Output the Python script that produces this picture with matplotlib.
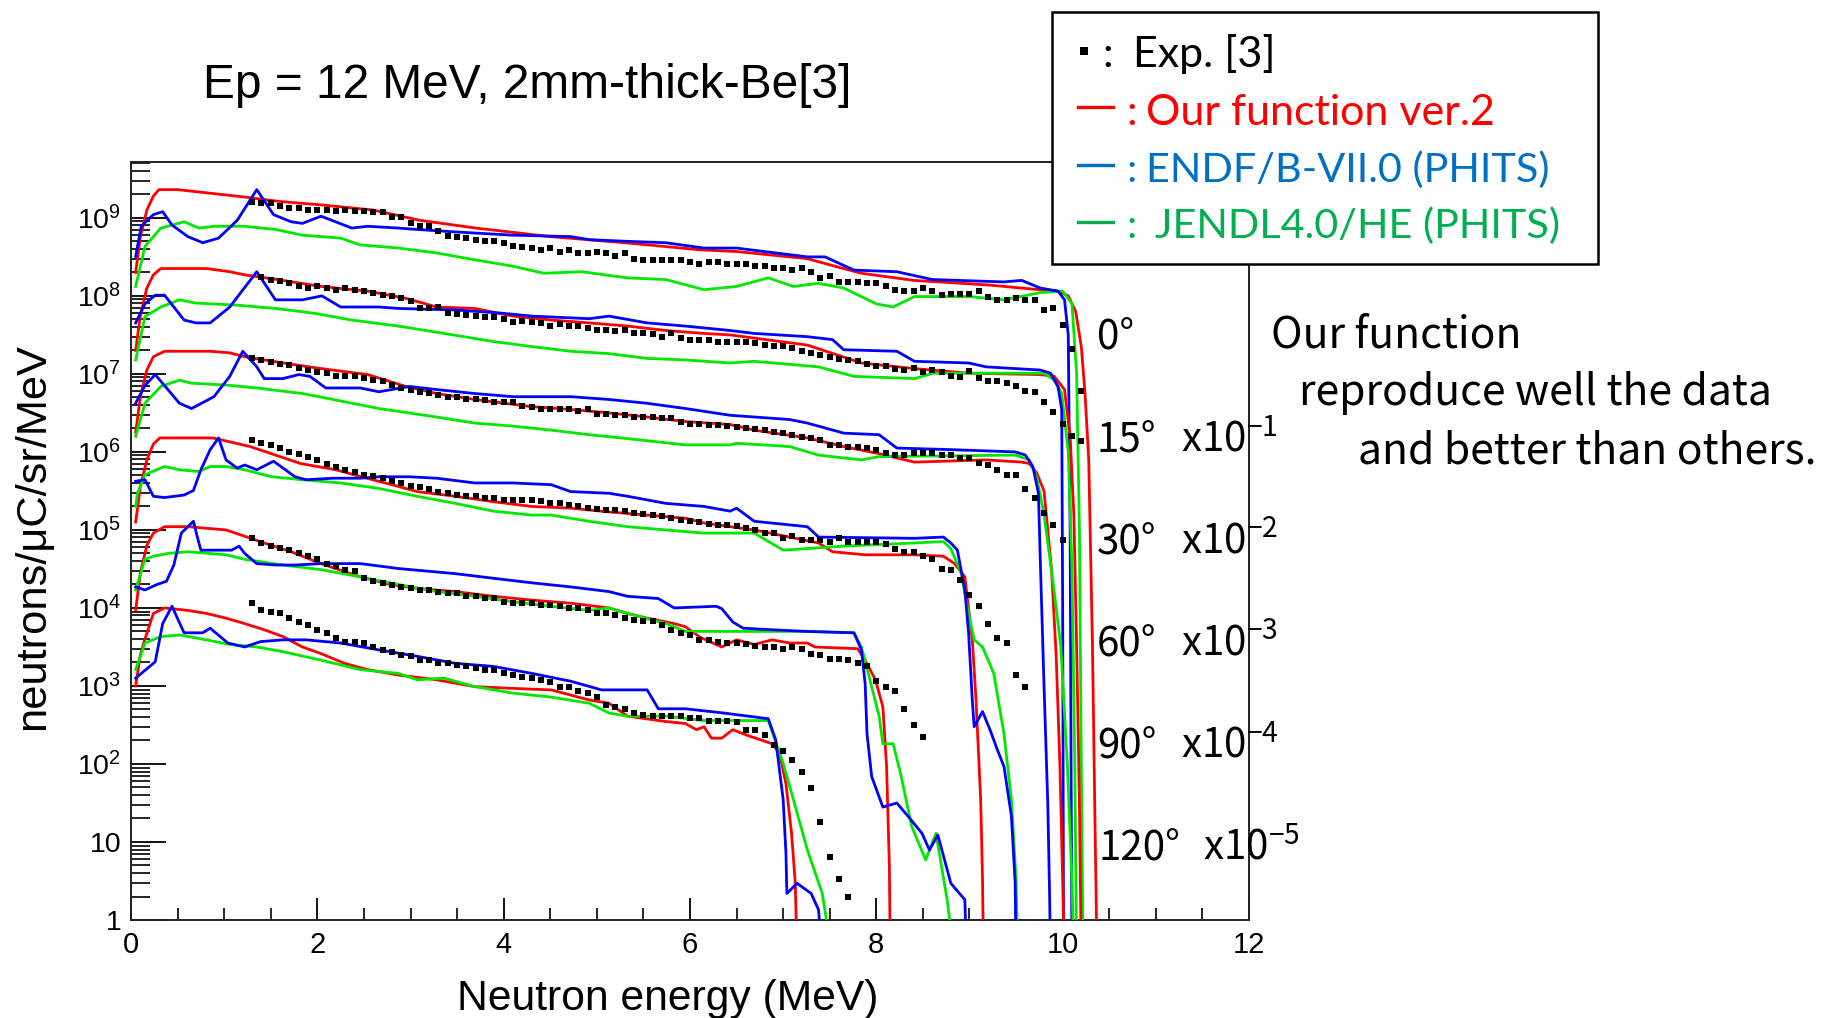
import numpy as np
import matplotlib
matplotlib.use("Agg")
import matplotlib.pyplot as plt
from matplotlib.lines import Line2D
from matplotlib.patches import Rectangle
from matplotlib.ticker import FixedLocator, FixedFormatter, LogLocator, MultipleLocator, NullFormatter

# ---------------------------------------------------------------- data
ANGLES = ["0°", "15°", "30°", "60°", "90°", "120°"]
SCALE_EXP = [0, -1, -2, -3, -4, -5]          # displayed = value * 10**SCALE_EXP

EXP_ENERGY = [1.3, 1.4, 1.5, 1.6, 1.7, 1.8, 1.9, 2.0, 2.1, 2.2, 2.3, 2.4, 2.5, 2.6, 2.7, 2.8, 2.9,
              3.0, 3.1, 3.2, 3.3, 3.4, 3.5, 3.6, 3.7, 3.8, 3.9, 4.0, 4.1, 4.2, 4.3, 4.4, 4.5, 4.6,
              4.7, 4.8, 4.9, 5.0, 5.1, 5.2, 5.3, 5.4, 5.5, 5.6, 5.7, 5.8, 5.9, 6.0, 6.1, 6.2, 6.3,
              6.4, 6.5, 6.6, 6.7, 6.8, 6.9, 7.0, 7.1, 7.2, 7.3, 7.4, 7.5, 7.6, 7.7, 7.8, 7.9, 8.0,
              8.1, 8.2, 8.3, 8.4, 8.5, 8.6, 8.7, 8.8, 8.9, 9.0, 9.1, 9.2, 9.3, 9.4, 9.5, 9.6, 9.7,
              9.8, 9.9, 10.0, 10.1, 10.2]
EXP_FIRST_E = [1.3, 1.4, 1.3, 1.3, 1.3, 1.3]

EXP_0 = [1.62e9, 1.55e9, 1.55e9, 1.43e9, 1.33e9, 1.33e9, 1.27e9, 1.27e9, 1.27e9, 1.21e9,
         1.27e9, 1.21e9, 1.21e9, 1.18e9, 1.18e9, 1.02e9, 1.02e9, 8.6e8, 7.9e8, 7.8e8,
         6.7e8, 5.8e8, 5.7e8, 5.5e8, 5.2e8, 5.0e8, 5.0e8, 4.7e8, 4.4e8, 4.2e8,
         4.1e8, 3.9e8, 4.1e8, 3.7e8, 3.9e8, 3.5e8, 3.5e8, 3.7e8, 3.5e8, 3.2e8,
         3.5e8, 3.0e8, 2.9e8, 2.9e8, 2.9e8, 2.9e8, 2.9e8, 2.75e8, 2.6e8, 2.75e8,
         2.75e8, 2.6e8,
         2.6e8, 2.6e8, 2.4e8, 2.4e8, 2.26e8, 2.26e8, 2.14e8, 2.26e8, 2.04e8, 1.7e8,
         1.82e8, 1.51e8, 1.51e8, 1.51e8, 1.45e8, 1.45e8, 1.32e8, 1.2e8, 1.15e8, 1.15e8,
         1.26e8, 1.15e8, 1.02e8, 1.07e8, 1.07e8, 1.07e8, 1.15e8, 9.8e7, 8.9e7, 8.9e7,
         9.3e7, 8.9e7, 8.9e7, 6.6e7, 6.9e7, 4.2e7, 2.1e7, 6.0e6]
EXP_1 = [1.77e9, 1.6e9, 1.53e9, 1.46e9, 1.32e9, 1.26e9, 1.32e9, 1.26e9, 1.2e9, 1.26e9,
         1.2e9, 1.15e9, 1.1e9, 1.03e9, 1.0e9, 9.3e8, 8.5e8, 6.95e8, 6.95e8, 7.3e8,
         6.1e8, 5.9e8, 5.7e8, 5.55e8, 5.4e8, 5.3e8, 5.0e8, 4.6e8, 4.7e8, 4.6e8,
         4.5e8, 4.05e8, 4.3e8, 4.05e8, 4.15e8, 3.85e8, 3.7e8, 3.7e8, 3.5e8, 3.7e8,
         3.3e8, 3.3e8, 3.2e8, 3.0e8, 3.3e8, 2.85e8, 2.7e8, 2.7e8, 2.7e8, 2.6e8,
         2.6e8,
         2.6e8, 2.6e8, 2.48e8, 2.36e8, 2.31e8, 2.31e8, 2.14e8, 1.94e8, 1.88e8, 1.75e8,
         1.67e8, 1.56e8, 1.51e8, 1.47e8, 1.35e8, 1.28e8, 1.28e8, 1.16e8, 1.13e8, 1.18e8,
         1.07e8, 1.13e8, 1.05e8, 9.3e7, 9.1e7, 1.1e8, 8.8e7, 8.0e7, 8.0e7, 7.7e7,
         6.9e7, 6.1e7, 5.8e7, 4.3e7, 3.2e7, 2.3e7, 1.6e7, 1.36e7]
EXP_2 = [1.59e9, 1.51e9, 1.44e9, 1.35e9, 1.31e9, 1.18e9, 1.13e9, 1.07e9, 1.02e9, 9.4e8,
         9.4e8, 9.3e8, 8.8e8, 8.4e8, 8.0e8, 7.2e8, 6.6e8, 6.2e8, 5.9e8, 5.7e8,
         5.4e8, 5.1e8, 5.1e8, 4.7e8, 4.7e8, 4.65e8, 4.4e8, 4.4e8, 4.3e8, 3.9e8,
         3.8e8, 3.6e8, 3.6e8, 3.6e8, 3.6e8, 3.3e8, 3.5e8, 3.1e8, 3.08e8, 3.0e8,
         3.0e8, 2.8e8, 2.8e8, 2.8e8, 2.7e8, 2.7e8, 2.45e8, 2.3e8, 2.3e8, 2.2e8,
         2.2e8, 2.16e8,
         2.11e8, 2.01e8, 1.97e8, 1.91e8, 1.82e8, 1.74e8, 1.65e8, 1.57e8, 1.5e8, 1.43e8,
         1.23e8, 1.23e8, 1.17e8, 1.17e8, 1.11e8, 1.06e8, 9.6e7, 9.2e7, 9.2e7, 9.6e7,
         9.6e7, 9.6e7, 9.2e7, 9.2e7, 8.3e7, 8.3e7, 7.2e7, 6.8e7, 5.9e7, 5.1e7,
         5.1e7, 3.3e7, 2.55e7, 1.64e7, 1.16e7, 7.4e6]
EXP_3 = [1.41e9, 1.29e9, 1.23e9, 1.12e9, 1.0e9, 9.5e8, 8.7e8, 7.9e8, 7.1e8, 6.5e8,
         5.9e8, 5.5e8, 5.1e8, 4.9e8, 4.6e8, 4.2e8, 4.0e8, 3.7e8, 3.55e8, 3.3e8,
         3.1e8, 2.95e8, 2.8e8, 2.75e8, 2.7e8, 2.6e8, 2.57e8, 2.45e8, 2.4e8, 2.4e8,
         2.4e8, 2.35e8, 2.24e8, 2.19e8, 2.09e8, 2.0e8, 1.9e8, 1.86e8, 1.82e8, 1.78e8,
         1.74e8, 1.66e8, 1.62e8, 1.55e8, 1.51e8, 1.41e8, 1.35e8, 1.32e8, 1.26e8, 1.2e8,
         1.15e8, 1.15e8, 1.12e8, 1.07e8, 1.0e8, 9.1e7, 9.1e7, 7.9e7, 8.3e7, 7.4e7,
         7.4e7, 7.4e7, 7.1e7, 7.9e7, 7.1e7, 7.1e7, 7.1e7, 7.1e7, 6.6e7, 5.75e7,
         5.25e7, 5.25e7, 4.6e7, 4.2e7, 3.2e7, 3.1e7, 2.3e7, 1.48e7, 1.05e7, 6.3e6,
         4.1e6, 3.55e6, 1.38e6, 9.8e5]
EXP_4 = [7.8e8, 6.8e8, 6.2e8, 5.9e8, 5.5e8, 5.0e8, 4.6e8, 4.2e8, 3.7e8, 3.4e8,
         3.1e8, 2.95e8, 2.4e8, 2.2e8, 2.1e8, 1.97e8, 1.86e8, 1.78e8, 1.7e8, 1.7e8,
         1.62e8, 1.55e8, 1.55e8, 1.41e8, 1.41e8, 1.33e8, 1.33e8, 1.2e8, 1.15e8, 1.15e8,
         1.15e8, 1.1e8, 1.1e8, 1.05e8, 1.0e8, 1.0e8, 9.4e7, 8.5e7, 8.5e7, 8.1e7,
         7.4e7, 7.1e7, 6.8e7, 6.8e7, 6.0e7, 5.25e7, 4.8e7, 4.5e7, 3.9e7, 3.9e7,
         3.7e7, 3.55e7, 3.55e7, 3.4e7, 3.3e7, 3.16e7, 3.16e7, 3.0e7, 3.16e7, 3.0e7,
         2.6e7, 2.5e7, 2.24e7, 2.24e7, 2.14e7, 1.95e7, 1.78e7, 1.15e7, 9.8e6, 8.5e6,
         5.1e6, 3.16e6, 2.24e6]
EXP_5 = [1.15e9, 9.4e8, 8.9e8, 8.5e8, 7.4e8, 6.7e8, 6.0e8, 5.25e8, 4.8e8, 4.1e8,
         3.7e8, 3.7e8, 3.55e8, 3.2e8, 2.9e8, 2.75e8, 2.5e8, 2.4e8, 2.14e8, 2.14e8,
         1.95e8, 1.95e8, 1.86e8, 1.78e8, 1.7e8, 1.6e8, 1.6e8, 1.45e8, 1.38e8, 1.32e8,
         1.26e8, 1.2e8, 1.14e8, 9.8e7, 9.8e7, 8.5e7, 8.1e7, 7.2e7, 5.75e7, 5.4e7,
         5.1e7, 4.5e7, 4.3e7, 4.1e7, 4.1e7, 4.1e7, 4.1e7, 3.85e7, 3.85e7, 3.6e7,
         3.6e7, 3.6e7, 3.5e7, 2.75e7, 2.75e7, 2.35e7, 1.74e7, 1.45e7, 1.12e7, 7.9e6,
         4.9e6, 1.82e6, 6.5e5, 3.4e5, 2.0e5]

# Our function ver.2 (red)
RED_E0 = [0.05, 0.1, 0.17, 0.24, 0.3, 0.5, 0.8, 1.2, 1.6, 2.0, 2.6, 3.1, 3.7, 4.5, 5.3, 6.1, 6.5,
          7.26, 7.5, 7.84, 8.4, 9.2, 9.75, 9.95, 10.06, 10.14, 10.2, 10.24, 10.28, 10.32, 10.35, 10.37]
RED_Y0 = [2.0e8, 5.6e8, 1.26e9, 1.9e9, 2.3e9, 2.3e9, 2.1e9, 1.86e9, 1.62e9, 1.48e9, 1.26e9, 9.3e8,
          7.4e8, 5.75e8, 4.8e8, 3.9e8, 3.7e8, 3.0e8, 2.5e8, 1.95e8, 1.58e8, 1.38e8, 1.2e8, 1.15e8,
          1.0e8, 6.3e7, 2.24e7, 5.6e6, 7.9e5, 3.2e3, 10, 0.3]
RED_E1 = [0.05, 0.1, 0.17, 0.24, 0.32, 0.81, 1.06, 1.22, 1.63, 2.04, 2.54, 2.95, 3.28, 3.69, 4.1,
          4.51, 4.92, 5.33, 5.74, 6.15, 6.43, 7.26, 7.84, 8.41, 8.99, 9.76, 9.91, 10.02, 10.08,
          10.12, 10.15, 10.18, 10.2]
RED_Y1 = [2.0e8, 5.6e8, 1.26e9, 1.86e9, 2.24e9, 2.24e9, 2.04e9, 1.86e9, 1.58e9, 1.32e9, 1.15e9,
          9.3e8, 7.2e8, 6.9e8, 5.5e8, 4.9e8, 4.5e8, 4.1e8, 3.6e8, 3.3e8, 3.16e8, 2.34e8, 1.38e8,
          1.17e8, 1.02e8, 9.8e7, 9.3e7, 6.3e7, 1.58e7, 1.58e6, 3.2e4, 316, 3.2]
RED_E2 = [0.05, 0.1, 0.17, 0.24, 0.36, 0.85, 1.06, 1.22, 1.63, 2.04, 2.54, 2.95, 3.28, 3.69, 4.3,
          4.72, 5.13, 5.54, 5.95, 6.43, 6.69, 7.26, 7.65, 8.03, 8.41, 9.18, 9.56, 9.64, 9.72, 9.8,
          9.88, 9.93, 9.97, 10.0, 10.02]
RED_Y2 = [1.78e8, 5.0e8, 1.12e9, 1.66e9, 1.95e9, 1.95e9, 1.86e9, 1.66e9, 1.38e9, 1.17e9, 9.8e8,
          6.9e8, 5.6e8, 4.7e8, 3.8e8, 3.5e8, 3.16e8, 2.8e8, 2.45e8, 2.24e8, 1.9e8, 1.51e8, 1.17e8,
          9.5e7, 7.4e7, 7.9e7, 7.4e7, 7.1e7, 5.4e7, 3.16e7, 3.16e6, 2.5e5, 1e4, 316, 32]
RED_E3 = [0.05, 0.1, 0.17, 0.24, 0.31, 0.88, 1.28, 1.82, 2.2, 2.5, 2.8, 3.07, 3.48, 3.89, 4.3,
          4.72, 5.13, 5.54, 5.95, 6.15, 6.43, 6.69, 7.38, 7.53, 7.88, 8.41, 8.72, 8.84, 8.95, 9.03,
          9.07, 9.12, 9.14, 9.15]
RED_Y3 = [1.26e8, 3.55e8, 7.9e8, 1.26e9, 1.51e9, 1.51e9, 1.17e9, 7.1e8, 5.9e8, 4.7e8, 3.8e8,
          3.1e8, 2.7e8, 2.3e8, 2.0e8, 1.9e8, 1.7e8, 1.55e8, 1.41e8, 1.23e8, 1.1e8, 1.0e8, 6.8e7,
          5.25e7, 4.8e7, 4.8e7, 4.6e7, 3.7e7, 2.5e7, 3.9e6, 6.6e5, 3.5e4, 3.2e3, 316]
RED_E4 = [0.05, 0.1, 0.17, 0.24, 0.36, 0.61, 0.81, 1.02, 1.22, 1.43, 1.72, 2.04, 2.46, 2.78, 3.07,
          3.48, 3.89, 4.3, 4.72, 5.13, 5.33, 5.54, 5.83, 5.95, 6.11, 6.34, 6.5, 6.69, 6.88, 7.07,
          7.26, 7.34, 7.8, 7.88, 7.99, 8.07, 8.11, 8.14, 8.15]
RED_Y4 = [9.3e7, 2.8e8, 6.3e8, 9.1e8, 1.1e9, 1.1e9, 1.05e9, 1.0e9, 8.3e8, 6.8e8, 5.25e8, 3.7e8,
          2.5e8, 2.0e8, 1.78e8, 1.62e8, 1.41e8, 1.26e8, 1.15e8, 1.0e8, 8.5e7, 7.4e7, 6.3e7, 5.75e7,
          4.2e7, 3.16e7, 3.9e7, 3.4e7, 3.9e7, 3.55e7, 3.55e7, 3.16e7, 3.0e7, 2.14e7, 1.2e7, 5.4e6,
          9.3e5, 4.8e4, 3.2e3]
RED_E5 = [0.05, 0.1, 0.15, 0.24, 0.36, 0.61, 0.81, 1.02, 1.22, 1.43, 1.63, 1.84, 2.04, 2.29, 2.54,
          2.87, 3.28, 3.69, 4.1, 4.51, 4.92, 5.13, 5.33, 5.74, 5.95, 6.07, 6.15, 6.23, 6.34, 6.46,
          6.61, 6.88, 6.96, 7.03, 7.09, 7.13, 7.15]
RED_Y5 = [1.0e8, 2.5e8, 4.0e8, 8.5e8, 1.0e9, 9.3e8, 8.5e8, 7.4e8, 6.3e8, 5.25e8, 4.3e8, 3.16e8,
          2.6e8, 1.95e8, 1.62e8, 1.38e8, 1.2e8, 9.8e7, 9.3e7, 8.9e7, 6.6e7, 6.0e7, 4.1e7, 3.5e7,
          3.3e7, 2.75e7, 3.0e7, 2.14e7, 2.14e7, 2.75e7, 2.34e7, 1.82e7, 1.38e7, 5.6e6, 1.29e6,
          2.95e5, 3.2e4]

# ENDF/B-VII.0 (PHITS) (blue)
BLUE_E0 = [0.05, 0.11, 0.24, 0.34, 0.44, 0.61, 0.77, 0.94, 1.14, 1.35, 1.53, 1.72, 1.84, 2.04,
           2.37, 2.54, 2.87, 3.07, 3.48, 4.1, 4.72, 4.92, 5.33, 5.74, 6.15, 6.5, 7.26, 7.45, 7.76,
           8.22, 8.6, 9.37, 9.56, 9.76, 9.95, 10.02, 10.06, 10.08, 10.09, 10.1]
BLUE_Y0 = [3.2e8, 7.8e8, 1.1e9, 1.2e9, 8.1e8, 5.75e8, 4.8e8, 5.5e8, 9.3e8, 2.3e9, 1.1e9, 8.9e8,
           8.5e8, 1.05e9, 7.4e8, 7.8e8, 7.4e8, 7.1e8, 6.6e8, 6.0e8, 5.75e8, 5.25e8, 5.0e8, 4.8e8,
           4.1e8, 4.1e8, 3.16e8, 3.16e8, 2.14e8, 2.04e8, 1.62e8, 1.51e8, 1.58e8, 1.26e8, 1.15e8,
           8.9e7, 3.16e7, 1e5, 100, 0.3]
BLUE_E1 = [0.05, 0.15, 0.26, 0.36, 0.57, 0.7, 0.85, 1.06, 1.35, 1.55, 1.84, 2.05, 2.25, 2.66,
           2.87, 3.48, 3.98, 4.3, 4.92, 5.13, 5.54, 5.95, 6.43, 6.69, 7.26, 7.53, 7.65, 8.22, 8.41,
           8.99, 9.18, 9.76, 9.87, 9.95, 9.99, 10.0, 10.01]
BLUE_Y1 = [4.5e8, 7.9e8, 1.02e9, 1.02e9, 4.9e8, 4.5e8, 4.5e8, 7.2e8, 2.04e9, 8.9e8, 8.9e8,
           1.0e9, 7.2e8, 7.2e8, 6.9e8, 6.6e8, 6.0e8, 5.5e8, 5.1e8, 5.5e8, 4.5e8, 4.1e8, 3.6e8,
           3.3e8, 3.0e8, 2.75e8, 2.04e8, 1.95e8, 1.45e8, 1.38e8, 1.23e8, 1.12e8, 1.02e8, 6.9e7,
           3.5e7, 1e5, 3.2]
BLUE_E2 = [0.05, 0.15, 0.26, 0.52, 0.65, 0.89, 1.06, 1.2, 1.35, 1.43, 1.63, 1.8, 1.92, 2.09,
           2.46, 2.66, 2.99, 3.28, 3.69, 4.1, 4.72, 5.13, 5.54, 5.95, 6.43, 7.07, 7.26, 7.65, 8.03,
           8.22, 8.8, 9.49, 9.6, 9.68, 9.74, 9.76, 9.8, 9.84, 9.86, 9.87]
BLUE_Y2 = [4.2e8, 7.1e8, 9.8e8, 4.2e8, 3.6e8, 5.1e8, 9.3e8, 1.95e9, 1.23e9, 8.7e8, 8.7e8, 9.8e8,
           9.3e8, 6.6e8, 6.6e8, 5.9e8, 6.9e8, 6.3e8, 5.6e8, 5.1e8, 5.1e8, 4.7e8, 4.2e8, 3.6e8,
           2.95e8, 2.6e8, 2.34e8, 1.74e8, 1.66e8, 1.12e8, 1.07e8, 1.0e8, 9.1e7, 6.5e7, 2.95e7,
           4.0e6, 1e5, 3.2e3, 200, 32]
BLUE_E3 = [0.05, 0.15, 0.24, 0.36, 0.57, 0.67, 0.75, 0.85, 0.94, 1.02, 1.14, 1.22, 1.35, 1.53,
           1.76, 1.88, 2.17, 2.46, 2.66, 2.99, 3.28, 3.69, 4.1, 4.51, 4.72, 5.13, 5.33, 5.74, 6.15,
           6.43, 6.5, 6.69, 7.26, 7.38, 8.41, 8.72, 8.8, 8.87, 8.95, 8.99, 9.03, 9.05, 9.14, 9.22,
           9.3, 9.37, 9.45, 9.49, 9.5]
BLUE_Y3 = [4.2e8, 4.4e8, 2.7e8, 2.6e8, 2.8e8, 3.2e8, 5.9e8, 1.07e9, 1.51e9, 7.9e8, 6.2e8, 6.8e8,
           5.9e8, 7.6e8, 4.8e8, 4.4e8, 4.6e8, 4.6e8, 4.8e8, 4.8e8, 4.6e8, 4.0e8, 4.0e8, 3.8e8,
           3.1e8, 2.95e8, 2.7e8, 2.19e8, 2.0e8, 1.74e8, 1.9e8, 1.29e8, 1.1e8, 8.1e7, 7.8e7, 8.1e7,
           6.8e7, 5.5e7, 1.7e7, 4.8e6, 6.6e5, 3.0e5, 4.7e5, 2.75e5, 1.51e5, 9.3e4, 2.14e4, 3.0e3,
           316]
BLUE_E4 = [0.05, 0.15, 0.28, 0.38, 0.46, 0.54, 0.67, 0.71, 0.75, 1.08, 1.16, 1.22, 1.35, 1.55,
           1.76, 2.04, 2.46, 2.58, 2.87, 3.2, 3.48, 3.89, 4.3, 4.72, 5.13, 5.33, 5.66, 5.83, 6.28,
           6.34, 6.46, 6.57, 6.88, 7.26, 7.76, 7.84, 7.88, 7.9, 7.95, 8.07, 8.22, 8.34, 8.49, 8.57,
           8.66, 8.8, 8.95, 8.97]
BLUE_Y4 = [1.86e8, 1.7e8, 2.0e8, 2.19e8, 3.55e8, 9.1e8, 1.29e9, 8.3e8, 5.5e8, 5.5e8, 6.2e8, 5.0e8,
           3.7e8, 3.55e8, 3.55e8, 3.7e8, 3.7e8, 3.55e8, 3.2e8, 2.95e8, 2.75e8, 2.4e8, 2.1e8,
           1.86e8, 1.62e8, 1.41e8, 1.32e8, 1.0e8, 1.05e8, 9.8e7, 6.6e7, 5.5e7, 5.25e7, 5.0e7,
           4.8e7, 2.9e7, 1.07e7, 2.45e6, 6.9e5, 2.8e5, 3.16e5, 2.14e5, 1.29e5, 7.9e4, 1.23e5,
           2.95e4, 1.82e4, 3.2e3]
BLUE_E5 = [0.05, 0.26, 0.34, 0.44, 0.57, 0.77, 0.85, 1.04, 1.22, 1.39, 1.63, 1.88, 2.25, 2.66,
           3.07, 3.48, 3.89, 4.3, 4.72, 5.05, 5.54, 5.66, 5.95, 6.36, 6.84, 6.92, 7.0, 7.03, 7.04,
           7.15, 7.3, 7.38, 7.42]
BLUE_Y5 = [1.26e8, 2.04e8, 6.3e8, 1.05e9, 4.8e8, 4.8e8, 5.5e8, 3.55e8, 3.16e8, 3.7e8, 3.9e8,
           3.9e8, 3.55e8, 2.9e8, 2.4e8, 1.95e8, 1.78e8, 1.45e8, 1.15e8, 8.9e7, 8.9e7, 5.1e7, 5.1e7,
           4.5e7, 3.8e7, 2.04e7, 3.5e6, 7.1e5, 2.19e5, 2.95e5, 2.19e5, 1.35e5, 3.2e4]

# JENDL4.0/HE (PHITS) (green)
GREEN_E0 = [0.05, 0.15, 0.32, 0.57, 0.73, 0.89, 1.22, 1.55, 1.84, 2.25, 2.46, 2.87, 3.28, 3.69,
            4.1, 4.43, 4.84, 5.33, 5.74, 6.15, 6.5, 6.84, 7.11, 7.38, 7.65, 8.0, 8.18, 8.41, 9.0,
            9.37, 9.76, 10.0, 10.1, 10.15, 10.18, 10.2, 10.22]
GREEN_Y0 = [1.32e8, 4.3e8, 7.4e8, 8.9e8, 7.4e8, 7.8e8, 7.8e8, 7.1e8, 6.0e8, 5.5e8, 4.5e8, 4.1e8,
            3.55e8, 2.9e8, 2.4e8, 1.95e8, 2.04e8, 1.7e8, 1.62e8, 1.2e8, 1.32e8, 1.7e8, 1.32e8,
            1.45e8, 1.26e8, 7.9e7, 7.2e7, 9.8e7, 9.8e7, 8.9e7, 1.1e8, 1.15e8, 7.9e7, 1e7, 1e5,
            100, 0.3]
GREEN_E1 = [0.05, 0.15, 0.32, 0.52, 0.69, 1.14, 1.55, 1.96, 2.37, 2.87, 3.36, 3.89, 4.3, 4.72,
            5.13, 5.54, 5.95, 6.43, 6.69, 7.38, 7.76, 8.41, 8.61, 9.56, 9.8, 9.91, 9.99, 10.06,
            10.1, 10.13, 10.15]
GREEN_Y1 = [1.51e8, 5.4e8, 7.2e8, 8.9e8, 8.1e8, 7.6e8, 6.9e8, 6.0e8, 4.9e8, 4.1e8, 3.3e8, 2.6e8,
            2.24e8, 1.95e8, 1.82e8, 1.58e8, 1.51e8, 1.38e8, 1.45e8, 1.23e8, 9.3e7, 8.7e7, 1.02e8,
            1.02e8, 1.02e8, 8.3e7, 5.6e7, 1e7, 3.2e5, 1e3, 3.2]
GREEN_E2 = [0.05, 0.15, 0.32, 0.52, 0.65, 1.02, 1.35, 1.84, 2.17, 2.66, 3.28, 3.69, 4.1, 4.51,
            4.92, 5.33, 5.95, 6.43, 6.5, 7.07, 7.38, 7.84, 8.03, 8.8, 9.49, 9.64, 9.72, 9.8, 9.9,
            9.98, 10.05, 10.1, 10.12]
GREEN_Y2 = [1.58e8, 4.2e8, 6.9e8, 8.3e8, 7.6e8, 7.2e8, 6.6e8, 5.6e8, 4.7e8, 3.6e8, 2.8e8, 2.34e8,
            2.14e8, 1.9e8, 1.66e8, 1.48e8, 1.23e8, 1.23e8, 1.29e8, 1.17e8, 9.1e7, 7.9e7, 8.7e7,
            8.9e7, 9.1e7, 7.9e7, 4.8e7, 1.58e7, 2.0e6, 3.2e5, 1e4, 316, 32]
GREEN_E3 = [0.05, 0.07, 0.15, 0.36, 0.52, 0.73, 0.85, 1.02, 1.22, 1.51, 1.84, 2.04, 2.25, 2.66,
            3.07, 3.48, 3.89, 4.3, 4.51, 4.92, 5.33, 5.74, 6.15, 6.69, 7.0, 7.65, 8.41, 8.72, 8.8,
            8.91, 8.99, 9.05, 9.14, 9.26, 9.37, 9.45, 9.5, 9.52]
GREEN_Y3 = [2.0e8, 2.95e8, 5.1e8, 6.5e8, 5.9e8, 5.6e8, 6.5e8, 6.5e8, 5.9e8, 4.8e8, 4.4e8, 4.2e8,
            4.0e8, 3.4e8, 2.7e8, 2.19e8, 1.74e8, 1.55e8, 1.55e8, 1.29e8, 1.1e8, 1.0e8, 9.1e7,
            9.1e7, 5.5e7, 6.2e7, 6.8e7, 7.1e7, 5.75e7, 2.8e7, 8.5e6, 3.9e6, 3.16e6, 1.45e6,
            2.45e5, 3.5e4, 3.2e3, 316]
GREEN_E4 = [0.05, 0.15, 0.24, 0.4, 0.61, 1.02, 1.22, 1.63, 2.04, 2.46, 2.87, 3.28, 3.69, 4.1,
            4.51, 4.92, 5.13, 5.33, 5.74, 5.95, 6.43, 6.88, 7.26, 7.76, 7.84, 7.95, 8.03, 8.07,
            8.18, 8.26, 8.38, 8.53, 8.64, 8.76, 8.84]
GREEN_Y4 = [1.7e8, 4.2e8, 4.6e8, 5.0e8, 5.25e8, 4.8e8, 4.2e8, 3.55e8, 3.1e8, 2.5e8, 2.0e8, 1.62e8,
            1.41e8, 1.2e8, 1.05e8, 9.3e7, 1.0e8, 8.5e7, 6.3e7, 5.0e7, 5.0e7, 5.0e7, 5.0e7, 4.8e7,
            3.16e7, 9.8e6, 4.1e6, 1.82e6, 1.82e6, 7.6e5, 1.58e5, 5.9e4, 1.29e5, 1.82e4, 3.2e3]
GREEN_E5 = [0.05, 0.15, 0.32, 0.52, 0.81, 1.06, 1.35, 1.63, 2.04, 2.46, 2.87, 3.07, 3.36, 3.69,
            4.1, 4.51, 4.92, 5.13, 5.33, 5.74, 6.15, 6.84, 7.0, 7.11, 7.26, 7.42, 7.53]
GREEN_Y5 = [1.62e8, 3.55e8, 4.3e8, 4.5e8, 3.9e8, 3.4e8, 3.16e8, 2.75e8, 2.14e8, 1.62e8, 1.45e8,
            1.2e8, 1.26e8, 9.8e7, 8.1e7, 7.2e7, 6.0e7, 4.5e7, 4.1e7, 4.1e7, 3.6e7, 3.6e7, 1.02e7,
            3.5e6, 7.9e5, 2.19e5, 3.2e4]

XTICKS = [0, 2, 4, 6, 8, 10, 12]
XTICK_LABELS = ["0", "2", "4", "6", "8", "10", "12"]
YTICKS = [1, 1e1, 1e2, 1e3, 1e4, 1e5, 1e6, 1e7, 1e8, 1e9]
YTICK_LABELS = ["1", "10", r"$10^{2}$", r"$10^{3}$", r"$10^{4}$", r"$10^{5}$", r"$10^{6}$",
                r"$10^{7}$", r"$10^{8}$", r"$10^{9}$"]
LEGEND_LABELS = ["Exp. [3]", "Our function ver.2", "ENDF/B-VII.0 (PHITS)", "JENDL4.0/HE (PHITS)"]
NOTE_LINES = ["Our function", "reproduce well the data", "and better than others."]
TITLE = "Ep = 12 MeV, 2mm-thick-Be[3]"

EXP_SERIES = [EXP_0, EXP_1, EXP_2, EXP_3, EXP_4, EXP_5]
RED_E = [RED_E0, RED_E1, RED_E2, RED_E3, RED_E4, RED_E5]
RED_Y = [RED_Y0, RED_Y1, RED_Y2, RED_Y3, RED_Y4, RED_Y5]
BLUE_E = [BLUE_E0, BLUE_E1, BLUE_E2, BLUE_E3, BLUE_E4, BLUE_E5]
BLUE_Y = [BLUE_Y0, BLUE_Y1, BLUE_Y2, BLUE_Y3, BLUE_Y4, BLUE_Y5]
GREEN_E = [GREEN_E0, GREEN_E1, GREEN_E2, GREEN_E3, GREEN_E4, GREEN_E5]
GREEN_Y = [GREEN_Y0, GREEN_Y1, GREEN_Y2, GREEN_Y3, GREEN_Y4, GREEN_Y5]

# ---------------------------------------------------------------- style
plt.rcParams['font.family'] = ['Liberation Sans', 'DejaVu Sans']
plt.rcParams['mathtext.default'] = 'regular'
SANS = ['Liberation Sans', 'DejaVu Sans']
LEG_FONT = ['Lato', 'DejaVu Sans']
JP_FONT = ['Noto Sans CJK JP', 'DejaVu Sans']

C_RED, C_BLUE, C_GREEN = '#ff0000', '#0000ff', '#00e800'
LEG_COLORS = ['#000000', '#ff0000', '#0070c0', '#00b050']

W, H = 1822, 1018
fig = plt.figure(figsize=(W / 100, H / 100), dpi=100)


def fx(x):
    return x / W


def fy(y):
    return 1 - y / H


AX_L, AX_R, AX_T, AX_B = 131, 1249, 162, 920
ax = fig.add_axes([fx(AX_L), fy(AX_B), (AX_R - AX_L) / W, (AX_B - AX_T) / H])
ax.set_yscale('log')

exp_e = np.array(EXP_ENERGY)
for k in range(len(ANGLES)):
    s = 10.0 ** SCALE_EXP[k]
    ax.plot(RED_E[k], np.array(RED_Y[k]) * s, color=C_RED, lw=2.0, zorder=3)
    ax.plot(GREEN_E[k], np.array(GREEN_Y[k]) * s, color=C_GREEN, lw=2.0, zorder=3)
    ax.plot(BLUE_E[k], np.array(BLUE_Y[k]) * s, color=C_BLUE, lw=2.0, zorder=3)
    i0 = int(np.argmin(np.abs(exp_e - EXP_FIRST_E[k])))
    vals = np.array(EXP_SERIES[k])
    ee = exp_e[i0:i0 + len(vals)]
    n = min(len(ee), len(vals))
    ax.plot(ee[:n], vals[:n] * s, ls='none', marker='s', ms=4.2, mfc='black', mec='black',
            mew=0, zorder=5)

ax.set_xlim(0, 12)
ax.set_ylim(1, 5.2e9)
ax.xaxis.set_major_locator(FixedLocator(XTICKS))
ax.xaxis.set_major_formatter(FixedFormatter(XTICK_LABELS))
ax.xaxis.set_minor_locator(MultipleLocator(0.5))
ax.yaxis.set_major_locator(FixedLocator(YTICKS))
ax.yaxis.set_major_formatter(FixedFormatter(YTICK_LABELS))
ax.yaxis.set_minor_locator(LogLocator(base=10, subs=np.arange(2, 10), numticks=200))
ax.yaxis.set_minor_formatter(NullFormatter())
ax.tick_params(axis='y', which='major', direction='in', length=25, width=1.3, labelsize=20.5,
               pad=7, left=True, right=False)
ax.tick_params(axis='y', which='minor', direction='in', length=13.5, width=1.2, left=True,
               right=False)
ax.tick_params(axis='x', which='major', direction='in', length=16, width=1.3, labelsize=21,
               pad=8, bottom=True, top=False)
ax.tick_params(axis='x', which='minor', direction='in', length=8.5, width=1.2, bottom=True,
               top=False)
for sp in ax.spines.values():
    sp.set_linewidth(1.4)
    sp.set_color('#222222')

# ---------------------------------------------------------------- texts
fig.text(fx(203), fy(98), TITLE, fontsize=34.5, family=SANS, ha='left', va='baseline')
fig.text(fx(33), fy(537), "neutrons/μC/sr/MeV", fontsize=31.2, family=SANS, rotation=90,
         ha='center', va='center')
fig.text(fx(668), fy(1010), "Neutron energy (MeV)", fontsize=30.7, family=SANS, ha='center',
         va='baseline')

# angle labels and scale factors
ANGLE_BASE_Y = [349, 452, 553, 655, 758, 859]
for k, lab in enumerate(ANGLES):
    xa = 1097 if k < 5 else 1099
    fig.text(fx(xa), fy(ANGLE_BASE_Y[k]), lab, fontsize=29, family=JP_FONT, ha='left',
             va='baseline', zorder=4)
    if SCALE_EXP[k] != 0:
        xs = 1181 if k < 5 else 1203
        fig.text(fx(xs), fy(ANGLE_BASE_Y[k]), "x10$^{%d}$" % SCALE_EXP[k], fontsize=29,
                 family=JP_FONT, ha='left', va='baseline', zorder=4)

NOTE_POS = [(1271, 348), (1299, 405), (1358, 463)]
for (x, y), line in zip(NOTE_POS, NOTE_LINES):
    fig.text(fx(x), fy(y), line, fontsize=30.7, family=JP_FONT, ha='left', va='baseline')

# legend box
box = Rectangle((fx(1052), fy(264)), (1598 - 1052) / W, (264 - 12) / H,
                transform=fig.transFigure, facecolor='white', edgecolor='black', lw=1.8,
                zorder=1)
fig.add_artist(box)
LEG_BASE = [67, 125, 182, 238]
LEG_SIZE = [31, 31, 29.8, 29.8]
# row 0: exp marker
fig.add_artist(Line2D([fx(1084)], [fy(51)], transform=fig.transFigure, ls='none', marker='s',
                      ms=5.5, mfc='black', mec='black', mew=0, zorder=2))
fig.text(fx(1102), fy(LEG_BASE[0]), ":", fontsize=LEG_SIZE[0], family=LEG_FONT, color='black',
         ha='left', va='baseline')
fig.text(fx(1133), fy(LEG_BASE[0]), LEGEND_LABELS[0], fontsize=LEG_SIZE[0], family=LEG_FONT,
         color=LEG_COLORS[0], ha='left', va='baseline')
LEG_LINE_Y = [107, 165, 222]
LEG_TEXT_X = [1146, 1146, 1155]
for i in range(3):
    c = LEG_COLORS[i + 1]
    fig.add_artist(Line2D([fx(1078), fx(1113)], [fy(LEG_LINE_Y[i])] * 2,
                          transform=fig.transFigure, color=c, lw=2.4, zorder=2))
    fig.text(fx(1126), fy(LEG_BASE[i + 1]), ":", fontsize=LEG_SIZE[i + 1], family=LEG_FONT,
             color=c, ha='left', va='baseline')
    fig.text(fx(LEG_TEXT_X[i]), fy(LEG_BASE[i + 1]), LEGEND_LABELS[i + 1],
             fontsize=LEG_SIZE[i + 1], family=LEG_FONT, color=c, ha='left', va='baseline')

fig.savefig("out.png", dpi=100)
